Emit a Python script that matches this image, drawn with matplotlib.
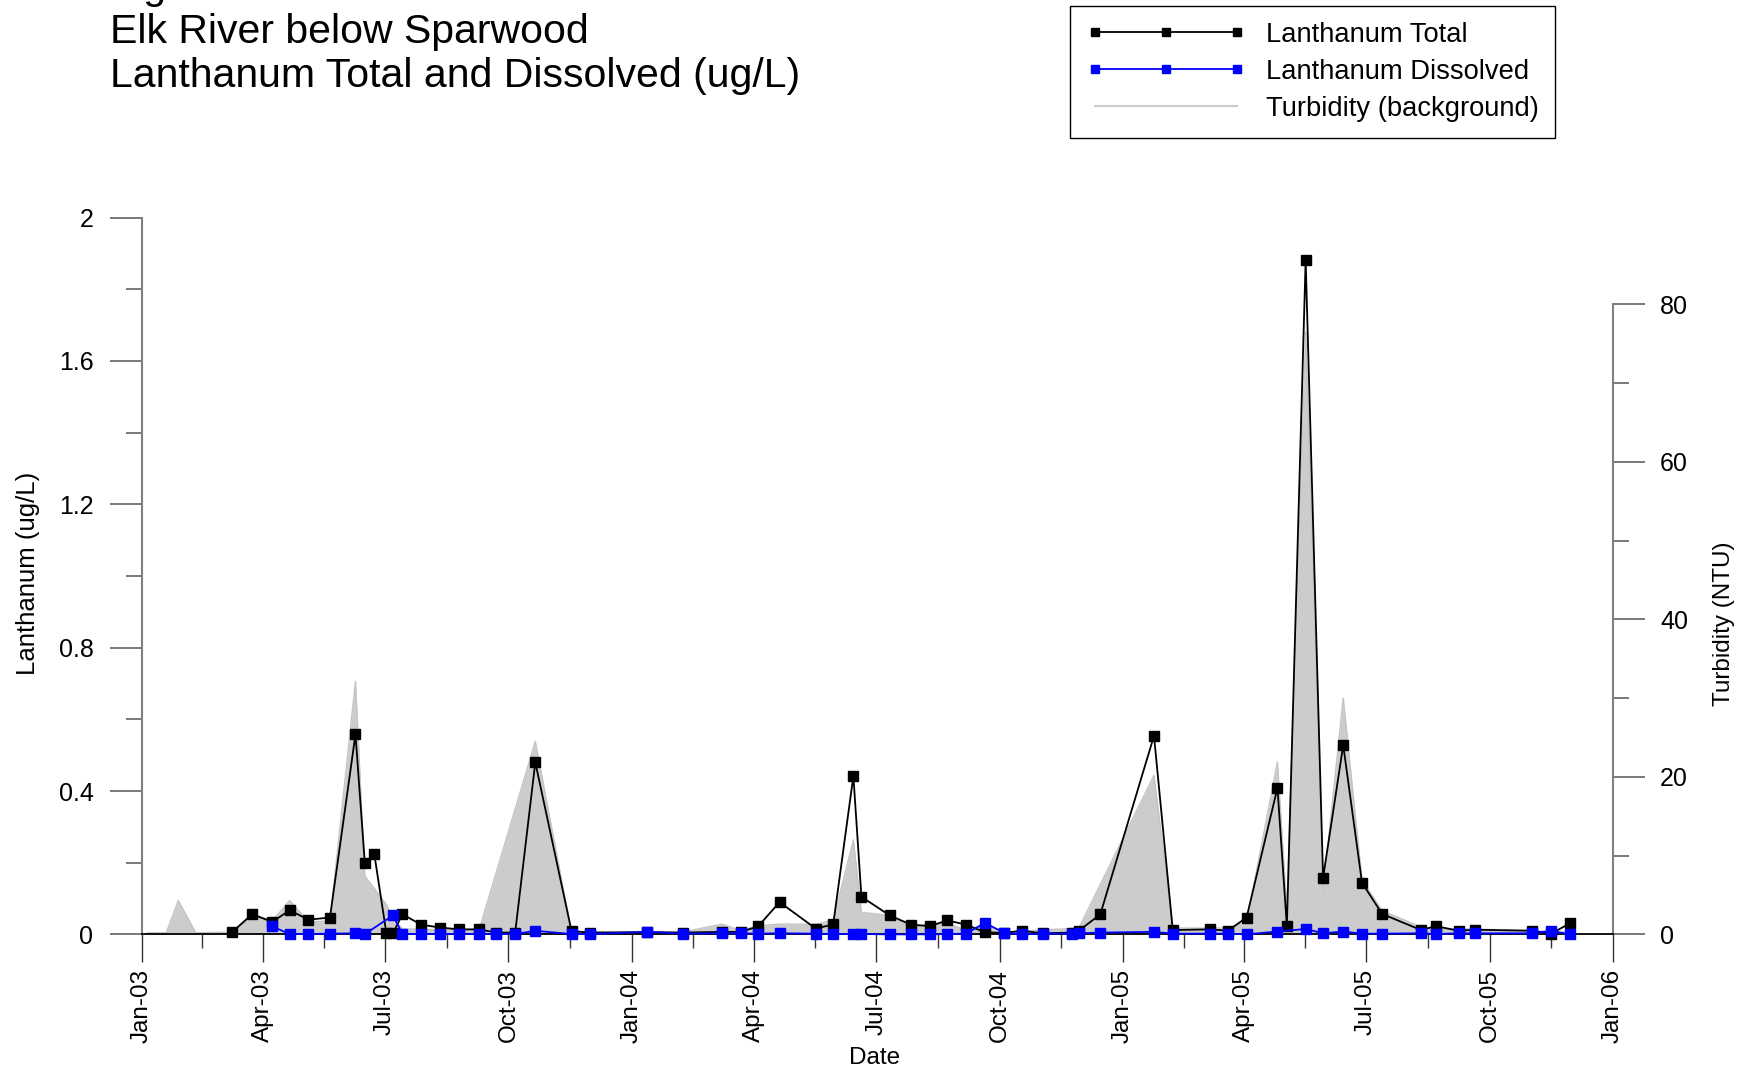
import matplotlib
matplotlib.use("Agg")
import matplotlib.pyplot as plt
import matplotlib.dates as mdates
import pandas as pd
import numpy as np

plt.rcParams['font.family'] = ['Liberation Sans', 'DejaVu Sans']

# ---- Data ----
total_dates = ["2003-03-09", "2003-03-24", "2003-04-08", "2003-04-21", "2003-05-05", "2003-05-21",
               "2003-06-09", "2003-06-16", "2003-06-23", "2003-07-02", "2003-07-07", "2003-07-14",
               "2003-07-28", "2003-08-11", "2003-08-25", "2003-09-09", "2003-09-22", "2003-10-06",
               "2003-10-21", "2003-11-17", "2003-12-01", "2004-01-12", "2004-02-08", "2004-03-08",
               "2004-03-22", "2004-04-04", "2004-04-20", "2004-05-17", "2004-05-30", "2004-06-14",
               "2004-06-20", "2004-07-11", "2004-07-27", "2004-08-10", "2004-08-23", "2004-09-06",
               "2004-09-20", "2004-10-04", "2004-10-18", "2004-11-02", "2004-11-24", "2004-11-29",
               "2004-12-15", "2005-01-24", "2005-02-07", "2005-03-07", "2005-03-20", "2005-04-03",
               "2005-04-26", "2005-05-03", "2005-05-17", "2005-05-30", "2005-06-14", "2005-06-28",
               "2005-07-13", "2005-08-11", "2005-08-22", "2005-09-08", "2005-09-20", "2005-11-02",
               "2005-11-16", "2005-11-30"]
total_vals = [0.006, 0.056, 0.035, 0.067, 0.041, 0.047,
              0.558, 0.198, 0.225, 0.004, 0.004, 0.056,
              0.027, 0.019, 0.014, 0.014, 0.005, 0.005,
              0.480, 0.009, 0.005, 0.006, 0.005, 0.007,
              0.007, 0.022, 0.090, 0.016, 0.028, 0.442,
              0.105, 0.053, 0.027, 0.023, 0.039, 0.027,
              0.006, 0.004, 0.010, 0.003, 0.005, 0.010,
              0.056, 0.554, 0.012, 0.014, 0.010, 0.047,
              0.409, 0.023, 1.881, 0.158, 0.528, 0.144,
              0.057, 0.012, 0.023, 0.010, 0.013, 0.010,
              0.002, 0.031]

diss_dates = ["2003-04-08", "2003-04-21", "2003-05-05", "2003-05-21", "2003-06-09", "2003-06-16",
              "2003-07-07", "2003-07-14", "2003-07-28", "2003-08-11", "2003-08-25", "2003-09-09",
              "2003-09-22", "2003-10-06", "2003-10-21", "2003-11-17", "2003-12-01", "2004-01-12",
              "2004-02-08", "2004-03-08", "2004-03-22", "2004-04-04", "2004-04-20", "2004-05-17",
              "2004-05-30", "2004-06-14", "2004-06-20", "2004-07-11", "2004-07-27", "2004-08-10",
              "2004-08-23", "2004-09-06", "2004-09-20", "2004-10-04", "2004-10-18", "2004-11-02",
              "2004-11-24", "2004-11-29", "2004-12-15", "2005-01-24", "2005-02-07", "2005-03-07",
              "2005-03-20", "2005-04-03", "2005-04-26", "2005-05-17", "2005-05-30", "2005-06-14",
              "2005-06-28", "2005-07-13", "2005-08-11", "2005-08-22", "2005-09-08", "2005-09-20",
              "2005-11-02", "2005-11-16", "2005-11-30"]
diss_vals = [0.022, 0.001, 0.001, 0.002, 0.003, 0.001,
             0.053, 0.001, 0.001, 0.001, 0.001, 0.001,
             0.001, 0.001, 0.010, 0.001, 0.001, 0.007,
             0.002, 0.003, 0.003, 0.002, 0.003, 0.002,
             0.001, 0.001, 0.001, 0.000, 0.000, 0.000,
             0.001, 0.002, 0.032, 0.005, 0.000, 0.002,
             0.002, 0.003, 0.005, 0.007, 0.002, 0.002,
             0.002, 0.000, 0.008, 0.015, 0.003, 0.008,
             0.002, 0.002, 0.003, 0.001, 0.003, 0.003,
             0.003, 0.010, 0.000]

turb_dates = ["2003-01-05", "2003-01-19", "2003-01-28", "2003-02-10", "2003-03-09", "2003-03-24",
              "2003-04-08", "2003-04-21", "2003-05-05", "2003-05-21", "2003-06-09", "2003-06-16",
              "2003-07-02", "2003-07-07", "2003-07-14", "2003-09-09", "2003-10-21", "2003-11-17",
              "2003-12-01", "2004-02-08", "2004-03-08", "2004-03-22", "2004-04-04", "2004-04-20",
              "2004-05-17", "2004-05-30", "2004-06-14", "2004-06-20", "2004-07-11", "2004-07-27",
              "2004-08-23", "2004-09-06", "2004-09-20", "2004-10-04", "2004-11-29", "2005-01-24",
              "2005-02-07", "2005-03-07", "2005-03-20", "2005-04-03", "2005-04-26", "2005-05-03",
              "2005-05-17", "2005-05-30", "2005-06-14", "2005-06-28", "2005-07-13", "2005-08-13",
              "2005-11-02", "2005-11-16", "2005-11-30"]
turb_vals = [0.2, 0.2, 4.3, 0.2, 0.3, 2.6,
             1.7, 4.3, 1.6, 1.7, 32.1, 7.4,
             3.8, 2.0, 0.7, 0.5, 24.5, 0.3,
             0.3, 0.3, 1.3, 0.5, 1.1, 1.3,
             1.3, 1.8, 12.0, 2.8, 2.4, 1.1,
             1.4, 0.5, 1.3, 0.3, 0.8, 20.2,
             0.8, 0.8, 0.8, 1.5, 21.9, 3.0,
             76.5, 5.5, 30.0, 6.9, 3.0, 0.8,
             0.5, 0.3, 0.3]

title_lines = ["Figure", "Elk River below Sparwood", "Lanthanum Total and Dissolved (ug/L)"]

# ---- Figure ----
fig = plt.figure(figsize=(17.54, 10.73), dpi=100)
ax = fig.add_axes([0.081, 0.1292, 0.8386, 0.668])
ax2 = ax.twinx()
ax.set_zorder(ax2.get_zorder() + 1)
ax.patch.set_visible(False)

td = pd.to_datetime(turb_dates)
ax2.fill_between(td, 0, turb_vals, color='#cccccc', lw=0, zorder=1)
ax2.plot(td, turb_vals, color='#c4c4c4', lw=1.0, zorder=2)
ax2.set_ylim(0, 91.0)

t_dt = pd.to_datetime(total_dates)
d_dt = pd.to_datetime(diss_dates)
l1, = ax.plot(t_dt, total_vals, color='black', lw=1.3, marker='s', ms=6.5,
              mfc='black', mec='black', zorder=3, clip_on=False)
l2, = ax.plot(d_dt, diss_vals, color='#0000ff', lw=1.3, marker='s', ms=6.5,
              mfc='#0000ff', mec='#0000ff', zorder=4, clip_on=False)

ax.set_xlim(pd.Timestamp("2003-01-01"), pd.Timestamp("2006-01-01"))
ax.set_ylim(0, 2)

# Spines
ax.spines['top'].set_visible(False)
ax2.spines['top'].set_visible(False)
ax.spines['right'].set_visible(False)
ax2.spines['left'].set_visible(False)
ax2.spines['bottom'].set_visible(False)
ax.spines['left'].set_color('#808080')
ax.spines['left'].set_linewidth(1.5)
ax.spines['bottom'].set_color('black')
ax.spines['bottom'].set_linewidth(1.3)
ax2.spines['right'].set_color('#808080')
ax2.spines['right'].set_linewidth(1.5)
ax2.spines['right'].set_bounds(0, 80)

# Left y ticks
ax.set_yticks([0, 0.4, 0.8, 1.2, 1.6, 2.0])
ax.set_yticklabels(["0", "0.4", "0.8", "1.2", "1.6", "2"])
ax.set_yticks(np.arange(0.2, 2.0, 0.4), minor=True)
ax.tick_params(axis='y', which='major', length=23, width=1.1, color='#555555',
               labelsize=18, pad=12)
ax.tick_params(axis='y', which='minor', length=11.5, width=1.1, color='#555555')

# Right y ticks
ax2.set_yticks([0, 20, 40, 60, 80])
ax2.set_yticks([10, 30, 50, 70], minor=True)
ax2.tick_params(axis='y', which='major', length=23, width=1.1, color='#555555',
                labelsize=18, pad=11)
ax2.tick_params(axis='y', which='minor', length=11.5, width=1.1, color='#555555')

# X ticks
majors = pd.date_range("2003-01-01", "2006-01-01", freq="QS")
minors = majors[:-1] + (majors[1:] - majors[:-1]) / 2
ax.set_xticks(majors)
ax.set_xticks(minors, minor=True)
ax.xaxis.set_major_formatter(mdates.DateFormatter('%b-%y'))
ax.tick_params(axis='x', which='major', length=20, width=1.0, color='#333333',
               labelsize=17.5, pad=5, labelrotation=90)
ax.tick_params(axis='x', which='minor', length=10, width=1.0, color='#333333')

# Axis labels
ax.set_ylabel("Lanthanum (ug/L)", fontsize=18.5)
ax.yaxis.set_label_coords(-0.0695, 0.504)
ax2.set_ylabel("Turbidity (NTU)", fontsize=17.5)
ax2.yaxis.set_label_coords(1.0677, 0.434)
ax.set_xlabel("Date", fontsize=17.5)
ax.xaxis.set_label_coords(0.498, -0.157)

# Titles
fig.text(0.0627, 1 - (-0.7) / 1073, title_lines[0], fontsize=29.5, va='baseline', ha='left')
fig.text(0.0627, 1 - 43.3 / 1073, title_lines[1], fontsize=29.5, va='baseline', ha='left')
fig.text(0.0627, 1 - 87.3 / 1073, title_lines[2], fontsize=29.5, va='baseline', ha='left')

# Legend
turb_handle = matplotlib.lines.Line2D([], [], color='#cccccc', lw=1.5)
leg = fig.legend([l1, l2, turb_handle],
                 ["Lanthanum Total", "Lanthanum Dissolved", "Turbidity (background)"],
                 loc='upper right', bbox_to_anchor=(1555 / 1754, 1 - 5.6 / 1073),
                 fontsize=19.7, numpoints=3, handlelength=5.8, handletextpad=0.75,
                 labelspacing=0.4, borderpad=0.6, borderaxespad=0.0,
                 fancybox=False, framealpha=1, edgecolor='black')
leg.get_frame().set_linewidth(1.0)
for h in leg.legend_handles[:2]:
    h.set_markersize(5.5)

fig.savefig("out.png", dpi=100)
